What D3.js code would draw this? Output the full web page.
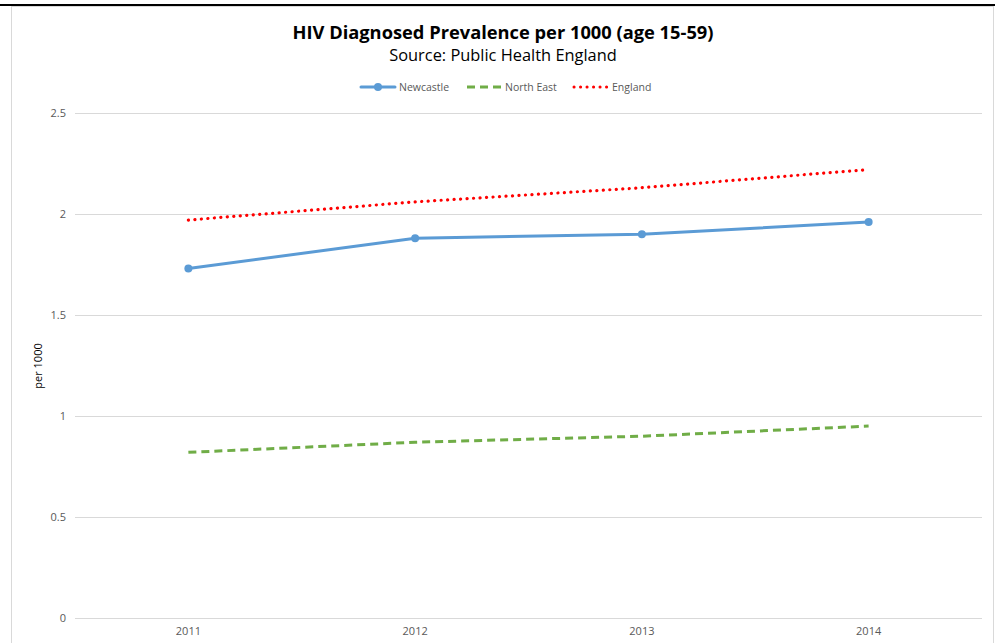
<!DOCTYPE html>
<html>
<head>
<meta charset="utf-8">
<script src="https://cdn.jsdelivr.net/npm/d3@7"></script>
<style>
  body { margin: 0; background: #fff; }
  text { font-family: "Open Sans", "Liberation Sans", sans-serif; }
</style>
</head>
<body>
<svg></svg>
<script>
var width = 995,
    height = 643;

var years = ["2011", "2012", "2013", "2014"];
var newcastle = [1.73, 1.88, 1.90, 1.96];
var northEast = [0.82, 0.87, 0.90, 0.95];
var england = [1.97, 2.06, 2.13, 2.22];
var yTicks = [0, 0.5, 1, 1.5, 2, 2.5];

var series = [
    {name: "Newcastle", values: newcastle, color: "#5b9bd5", dash: null, cap: "round", marker: true},
    {name: "North East", values: northEast, color: "#70ad47", dash: "8,5", cap: "butt", marker: false},
    {name: "England", values: england, color: "#ff0000", dash: "0.1,6.4", cap: "round", marker: false}
];

var svg = d3.select("svg")
    .attr("width", width)
    .attr("height", height);

// frame
svg.append("rect")
    .attr("x", 11.5).attr("y", 6.5)
    .attr("width", 982).attr("height", 650)
    .attr("fill", "#fff")
    .attr("stroke", "#d9d9d9");
svg.append("line")
    .attr("x1", 0).attr("x2", width)
    .attr("y1", 5).attr("y2", 5)
    .attr("stroke", "#000").attr("stroke-width", 2);

var x = d3.scaleBand().domain(years).range([75, 982]);
var y = d3.scaleLinear().domain([0, 2.5]).range([618, 113]);

// gridlines
svg.selectAll(".grid")
    .data(yTicks)
    .enter()
    .append("line")
    .attr("x1", 75).attr("x2", 982)
    .attr("y1", function(d) { return Math.round(y(d)) + 0.5; })
    .attr("y2", function(d) { return Math.round(y(d)) + 0.5; })
    .attr("stroke", "#d9d9d9")
    .attr("stroke-width", 1);

// y axis labels
var yAxis = svg.append("g")
    .attr("transform", "translate(66,0)")
    .call(d3.axisLeft(y).tickValues(yTicks).tickSize(0).tickPadding(0)
        .tickFormat(function(d) { return d3.format("")(d); }));
yAxis.select(".domain").remove();
yAxis.selectAll("text")
    .attr("fill", "#595959")
    .style("font-size", "11px")
    .style("font-family", "'Open Sans', sans-serif");

// x axis labels
var xAxis = svg.append("g")
    .attr("transform", "translate(0,618)")
    .call(d3.axisBottom(x).tickSize(0).tickPadding(9));
xAxis.select(".domain").remove();
xAxis.selectAll("text")
    .attr("fill", "#595959")
    .style("font-size", "11px")
    .style("font-family", "'Open Sans', sans-serif");

// y title
svg.append("text")
    .attr("transform", "translate(42,366) rotate(-90)")
    .attr("text-anchor", "middle")
    .attr("fill", "#000")
    .style("font-size", "11px")
    .text("per 1000");

// lines
var line = d3.line()
    .x(function(d, i) { return x(years[i]) + x.bandwidth() / 2; })
    .y(function(d) { return y(d); });

series.forEach(function(s) {
    svg.append("path")
        .attr("d", line(s.values))
        .attr("fill", "none")
        .attr("stroke", s.color)
        .attr("stroke-width", s.name == "England" ? 3.2 : 3)
        .attr("stroke-dasharray", s.dash)
        .attr("stroke-linecap", s.cap);
    if (s.marker) {
        svg.selectAll(".pt-" + s.name)
            .data(s.values)
            .enter()
            .append("circle")
            .attr("cx", function(d, i) { return x(years[i]) + x.bandwidth() / 2; })
            .attr("cy", function(d) { return y(d); })
            .attr("r", 4)
            .attr("fill", s.color);
    }
});

// title
svg.append("text")
    .attr("x", 503).attr("y", 39)
    .attr("text-anchor", "middle")
    .style("font-size", "18.3px")
    .style("font-weight", "bold")
    .text("HIV Diagnosed Prevalence per 1000 (age 15-59)");
svg.append("text")
    .attr("x", 503).attr("y", 61)
    .attr("text-anchor", "middle")
    .style("font-size", "16.4px")
    .attr("fill", "#000")
    .text("Source: Public Health England");

// legend
var legendX = [361, 467, 574];
var legend = svg.selectAll(".legend")
    .data(series)
    .enter()
    .append("g")
    .attr("transform", function(d, i) { return "translate(" + legendX[i] + ",87)"; });
legend.append("line")
    .attr("x1", 0).attr("x2", 34)
    .attr("y1", 0).attr("y2", 0)
    .attr("stroke", function(d) { return d.color; })
    .attr("stroke-width", 3)
    .attr("stroke-dasharray", function(d) { return d.dash; })
    .attr("stroke-linecap", function(d) { return d.cap; });
legend.filter(function(d) { return d.marker; })
    .append("circle")
    .attr("cx", 17).attr("cy", 0).attr("r", 4)
    .attr("fill", function(d) { return d.color; });
legend.append("text")
    .attr("x", 38).attr("y", 4)
    .attr("fill", "#595959")
    .style("font-size", "10.5px")
    .text(function(d) { return d.name; });
</script>
</body>
</html>
